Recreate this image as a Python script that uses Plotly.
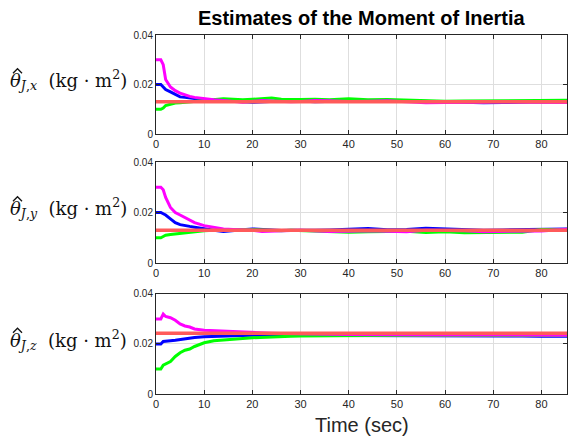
import plotly.graph_objects as go

# Time grid (sec)
t = [0, 1, 1.5, 2, 3, 4, 5, 6, 7, 8, 10, 12, 14, 16, 18, 20, 22, 24, 26, 28, 30,
     33, 36, 40, 44, 48, 52, 56, 60, 64, 68, 72, 76, 80, 86]

# Panel 1: theta_J,x
x_magenta = [0.030, 0.030, 0.028, 0.022, 0.019, 0.0175, 0.0165, 0.0158, 0.0152, 0.0148, 0.0142, 0.0138,
             0.0135, 0.0133, 0.0128, 0.0132, 0.0135, 0.0133, 0.0131, 0.0130, 0.0131, 0.0135, 0.0134, 0.0131,
             0.0132, 0.0134, 0.0130, 0.0126, 0.0127, 0.0126, 0.0128, 0.0130, 0.0129, 0.0128, 0.0127]
x_blue = [0.020, 0.020, 0.019, 0.018, 0.017, 0.016, 0.015, 0.0148, 0.0145, 0.0142, 0.0138, 0.0136,
          0.0135, 0.0134, 0.0130, 0.0128, 0.0130, 0.0132, 0.0133, 0.0132, 0.0133, 0.0130, 0.0132, 0.0133,
          0.0135, 0.0135, 0.0133, 0.0129, 0.0128, 0.0128, 0.0126, 0.0127, 0.0130, 0.0130, 0.0128]
x_green = [0.010, 0.010, 0.0105, 0.0115, 0.012, 0.0125, 0.0126, 0.0128, 0.0130, 0.0131, 0.0133, 0.0140,
           0.0142, 0.0140, 0.0138, 0.0140, 0.0142, 0.0145, 0.0140, 0.0138, 0.0139, 0.0140, 0.0138, 0.0142,
           0.0138, 0.0139, 0.0136, 0.0133, 0.0132, 0.0133, 0.0134, 0.0136, 0.0134, 0.0135, 0.0137]
x_true = 0.013

# Panel 2: theta_J,y
y_magenta = [0.030, 0.030, 0.029, 0.026, 0.022, 0.020, 0.019, 0.018, 0.017, 0.016, 0.0148, 0.0140,
             0.0135, 0.0133, 0.0131, 0.0130, 0.0125, 0.0127, 0.0129, 0.0129, 0.0130, 0.0128, 0.0125, 0.0126,
             0.0128, 0.0126, 0.0124, 0.0130, 0.0129, 0.0128, 0.0124, 0.0126, 0.0128, 0.0127, 0.0135]
y_blue = [0.020, 0.020, 0.0195, 0.019, 0.0175, 0.016, 0.0152, 0.015, 0.0145, 0.0142, 0.0135, 0.0130,
          0.0125, 0.0127, 0.0132, 0.0135, 0.0133, 0.0130, 0.0129, 0.0130, 0.0131, 0.0130, 0.0131, 0.0134,
          0.0137, 0.0132, 0.0133, 0.0138, 0.0135, 0.0131, 0.0130, 0.0131, 0.0132, 0.0134, 0.0135]
y_green = [0.010, 0.010, 0.0105, 0.011, 0.0113, 0.0115, 0.0116, 0.0118, 0.0122, 0.0125, 0.0128, 0.0130,
           0.0131, 0.0134, 0.0133, 0.0132, 0.0131, 0.0129, 0.0128, 0.0130, 0.0129, 0.0127, 0.0125, 0.0122,
           0.0124, 0.0125, 0.0126, 0.0121, 0.0124, 0.0120, 0.0121, 0.0120, 0.0122, 0.0133, 0.0130]
y_true = 0.013

# Panel 3: theta_J,z
z_magenta = [0.030, 0.030, 0.032, 0.031, 0.0305, 0.0295, 0.028, 0.0272, 0.0268, 0.026, 0.0255, 0.0253,
             0.025, 0.0248, 0.0246, 0.0245, 0.0244, 0.0243, 0.0242, 0.0241, 0.0240, 0.0240, 0.0239, 0.0238,
             0.0237, 0.0236, 0.0236, 0.0236, 0.0236, 0.0236, 0.0236, 0.0236, 0.0235, 0.0235, 0.0235]
z_blue = [0.020, 0.020, 0.021, 0.021, 0.0213, 0.0215, 0.0218, 0.022, 0.0223, 0.0226, 0.0229, 0.0231,
          0.0232, 0.0233, 0.0234, 0.0235, 0.0235, 0.0235, 0.0235, 0.0235, 0.0235, 0.0235, 0.0235, 0.0235,
          0.0234, 0.0233, 0.0232, 0.0232, 0.0233, 0.0233, 0.0232, 0.0233, 0.0232, 0.0231, 0.0231]
z_green = [0.010, 0.010, 0.0115, 0.012, 0.013, 0.015, 0.0165, 0.0175, 0.018, 0.019, 0.0205, 0.0213,
           0.0217, 0.022, 0.0222, 0.0225, 0.0227, 0.0228, 0.0230, 0.0231, 0.0232, 0.0233, 0.0234, 0.0234,
           0.0234, 0.0234, 0.0234, 0.0234, 0.0234, 0.0234, 0.0234, 0.0234, 0.0234, 0.0234, 0.0234]
z_true = 0.0243

x_ticks = [0, 10, 20, 30, 40, 50, 60, 70, 80]
y_ticks = [0, 0.02, 0.04]
y_ticktext = ["0", "0.02", "0.04"]
x_range = [0, 85.3]

y_labels = [
    "<i>θ</i><sub><i>J</i>,<i>x</i></sub>  (kg · m<sup>2</sup>)",
    "<i>θ</i><sub><i>J</i>,<i>y</i></sub>  (kg · m<sup>2</sup>)",
    "<i>θ</i><sub><i>J</i>,<i>z</i></sub>  (kg · m<sup>2</sup>)",
]

panels = [
    (x_blue, x_green, x_magenta, x_true),
    (y_blue, y_green, y_magenta, y_true),
    (z_blue, z_green, z_magenta, z_true),
]

BLUE = "#0000ff"
GREEN = "#00ff00"
MAGENTA = "#ff00ff"
RED = "#ff5a5a"

fig = go.Figure()
for i, (b, g, m, tr) in enumerate(panels):
    xa = "x" if i == 0 else f"x{i+1}"
    ya = "y" if i == 0 else f"y{i+1}"
    fig.add_trace(go.Scatter(x=t, y=b, mode="lines", line=dict(color=BLUE, width=3), xaxis=xa, yaxis=ya))
    fig.add_trace(go.Scatter(x=t, y=g, mode="lines", line=dict(color=GREEN, width=3), xaxis=xa, yaxis=ya))
    fig.add_trace(go.Scatter(x=t, y=m, mode="lines", line=dict(color=MAGENTA, width=3), xaxis=xa, yaxis=ya))
    fig.add_trace(go.Scatter(x=[t[0], t[-1]], y=[tr, tr], mode="lines", line=dict(color=RED, width=3.5),
                             xaxis=xa, yaxis=ya))

domains = [[0.7242, 1.0], [0.3649, 0.6462], [0.0, 0.2786]]
axis_common = dict(showline=True, linecolor="#262626", linewidth=1, mirror="ticks",
                   ticks="inside", ticklen=4, tickcolor="#262626",
                   showgrid=True, gridcolor="#dedede", gridwidth=1, zeroline=False)
ML, MT, PW, PH = 156, 35, 411, 359
layout = dict(
    width=568, height=440,
    margin=dict(l=ML, r=1, t=MT, b=46),
    paper_bgcolor="white", plot_bgcolor="white",
    showlegend=False,
    font=dict(family="Liberation Sans, Arial, sans-serif", color="#262626"),
)
LABEL_FONT = dict(family="DejaVu Serif, Liberation Serif, serif", size=18, color="#111111")


def px2paper(px, py):
    return (px - ML) / PW, (MT + PH - py) / PH


annotations = []
shapes = []
for i in range(3):
    xk = "xaxis" if i == 0 else f"xaxis{i+1}"
    yk = "yaxis" if i == 0 else f"yaxis{i+1}"
    layout[xk] = dict(axis_common, domain=[0, 1], range=x_range, tickvals=x_ticks,
                      tickfont=dict(size=11, color="#262626"),
                      anchor="y" if i == 0 else f"y{i+1}")
    layout[yk] = dict(axis_common, domain=domains[i], range=[0, 0.04], tickvals=y_ticks,
                      ticktext=y_ticktext, tickfont=dict(size=10, color="#262626"),
                      anchor="x" if i == 0 else f"x{i+1}")
    yc = (domains[i][0] + domains[i][1]) / 2 + 0.012
    annotations.append(dict(
        text=y_labels[i], xref="paper", yref="paper",
        x=-0.066, y=yc, xanchor="right", yanchor="middle", showarrow=False,
        font=LABEL_FONT,
    ))
    # circumflex accent over theta, drawn as a small path
    pyc = MT + PH - yc * PH
    pts = [px2paper(13.0, pyc - 7.0), px2paper(17.5, pyc - 11.5), px2paper(22.0, pyc - 7.0)]
    path = "M {:.5f},{:.5f} L {:.5f},{:.5f} L {:.5f},{:.5f}".format(
        pts[0][0], pts[0][1], pts[1][0], pts[1][1], pts[2][0], pts[2][1])
    shapes.append(dict(type="path", xref="paper", yref="paper", path=path,
                       line=dict(color="#111111", width=1.3)))

annotations.append(dict(text="<b>Estimates of the Moment of Inertia</b>", xref="paper", yref="paper",
                        x=0.5, y=1.0, yshift=17, xanchor="center", yanchor="middle", showarrow=False,
                        font=dict(size=20, color="#000000")))
annotations.append(dict(text="Time (sec)", xref="paper", yref="paper",
                        x=0.5, y=0.0, yshift=-31, xanchor="center", yanchor="middle", showarrow=False,
                        font=dict(size=20, color="#262626")))
layout["annotations"] = annotations
layout["shapes"] = shapes
fig.update_layout(**layout)
fig.write_html("out.html")
